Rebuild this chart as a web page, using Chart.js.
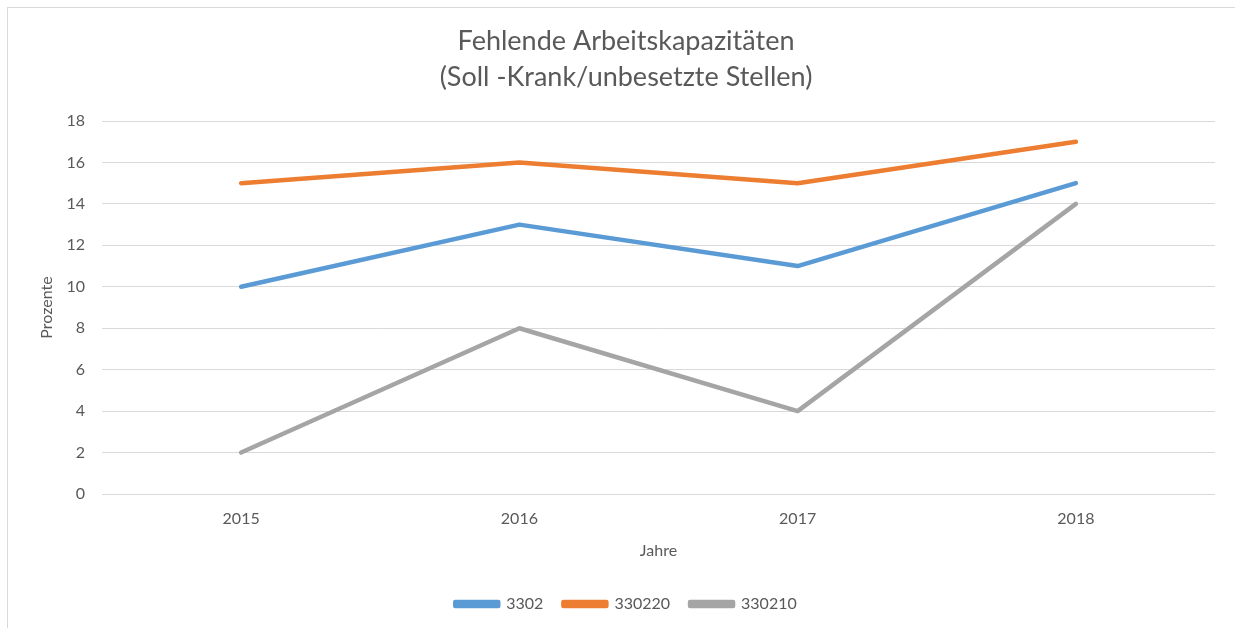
<!DOCTYPE html>
<html>
<head>
<meta charset="utf-8">
<script src="https://cdn.jsdelivr.net/npm/chart.js@4/dist/chart.umd.min.js"></script>
<style>
    html, body { margin: 0; padding: 0; background: #fff; }
    #wrap { position: relative; width: 1235px; height: 628px; }
    #frame { position: absolute; left: 7px; top: 7px; right: 0; bottom: 0;
             border-top: 1px solid #d9d9d9; border-left: 1px solid #d9d9d9; }
    #myChart { position: absolute; left: 0; top: 0; }
</style>
</head>
<body>
<div id="wrap">
    <div id="frame"></div>
    <canvas id="myChart" width="1235" height="628"></canvas>
</div>
<script>
// Chart data
var years = ['2015', '2016', '2017', '2018'];
var series3302 = [10, 13, 11, 15];
var series330220 = [15, 16, 15, 17];
var series330210 = [2, 8, 4, 14];
var seriesNames = ['3302', '330220', '330210'];
var titleLines = ['Fehlende Arbeitskapazitäten', '(Soll -Krank/unbesetzte Stellen)'];

var textColor = '#595959';
var fontFamily = 'Lato, "Open Sans", sans-serif';

function lineSet(name, data, color) {
    return {
        label: name,
        data: data,
        borderColor: color,
        backgroundColor: color,
        borderWidth: 4.5,
        borderCapStyle: 'round',
        borderJoinStyle: 'round',
        pointRadius: 0,
        pointHoverRadius: 0,
        tension: 0,
        fill: false
    };
}

var ctx = document.getElementById('myChart').getContext('2d');

var config = {
    type: 'line',
    data: {
        labels: years,
        datasets: [
            lineSet(seriesNames[0], series3302, '#5b9bd5'),
            lineSet(seriesNames[1], series330220, '#ed7d31'),
            lineSet(seriesNames[2], series330210, '#a5a5a5')
        ]
    },
    options: {
        responsive: false,
        animation: false,
        layout: {
            // left padding shifts title and legend centre a bit to the right
            padding: { left: 37, right: 20, top: 0, bottom: 6 }
        },
        plugins: {
            title: {
                display: true,
                text: titleLines,
                color: textColor,
                font: { family: fontFamily, size: 27, weight: 'normal', lineHeight: '36px' },
                padding: { top: 23, bottom: 26 }
            },
            legend: {
                display: true,
                position: 'bottom',
                labels: {
                    color: textColor,
                    font: { family: fontFamily, size: 16 },
                    boxWidth: 43,
                    boxHeight: 4,
                    padding: 20
                }
            },
            tooltip: { enabled: false }
        },
        scales: {
            x: {
                offset: true,
                grid: { display: false, drawTicks: false },
                border: { display: false },
                ticks: {
                    color: textColor,
                    font: { family: fontFamily, size: 16 },
                    padding: 15
                },
                title: {
                    display: true,
                    text: 'Jahre',
                    color: textColor,
                    font: { family: fontFamily, size: 16 },
                    padding: { top: 0, bottom: 16 }
                },
                afterFit: function(scale) { scale.height = 82; }
            },
            y: {
                min: 0,
                max: 18,
                ticks: {
                    stepSize: 2,
                    color: textColor,
                    font: { family: fontFamily, size: 16 },
                    padding: 17
                },
                grid: { color: '#d9d9d9', lineWidth: 1, drawTicks: false },
                border: { display: false },
                title: {
                    display: true,
                    text: 'Prozente',
                    color: textColor,
                    font: { family: fontFamily, size: 16 },
                    padding: { top: 0, bottom: 0 }
                },
                afterFit: function(scale) { scale.width = 65; }
            }
        }
    }
};

// Create the chart
var myChart = new Chart(ctx, config);
</script>
</body>
</html>
